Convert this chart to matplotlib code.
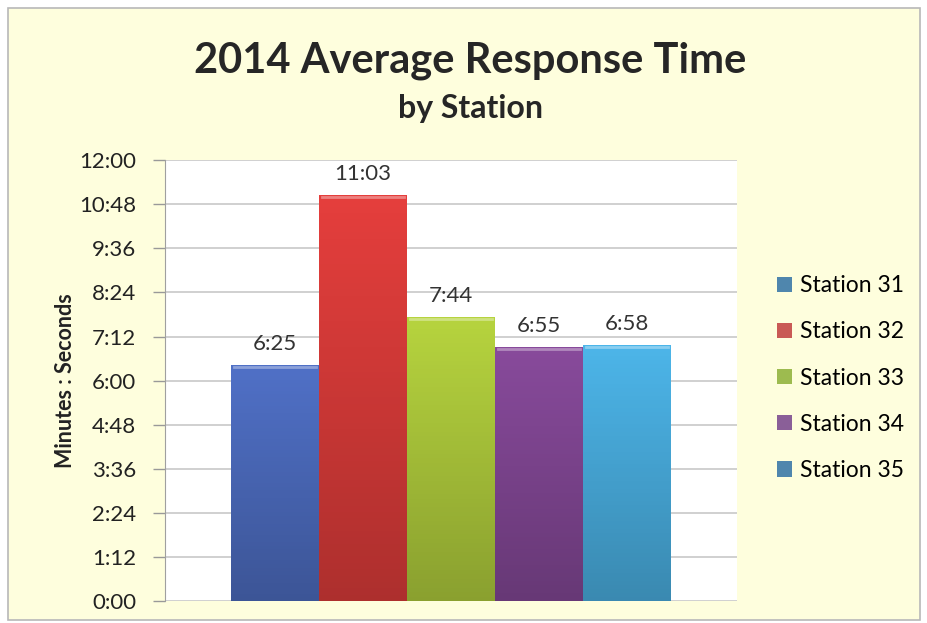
import matplotlib.pyplot as plt
import numpy as np
from matplotlib.patches import Rectangle, Patch

stations = ["Station 31", "Station 32", "Station 33", "Station 34", "Station 35"]
times = ["6:25", "11:03", "7:44", "6:55", "6:58"]
bar_colors = ["#4a68b8", "#d43a38", "#a9c43a", "#7e4590", "#47a8d8"]
legend_colors = ["#4f86ad", "#c95a55", "#9dbb4f", "#8a5f98", "#4f86ad"]
tick_labels = ["0:00", "1:12", "2:24", "3:36", "4:48", "6:00",
               "7:12", "8:24", "9:36", "10:48", "12:00"]

minutes = [int(t.split(":")[0]) + int(t.split(":")[1]) / 60 for t in times]

plt.rcParams["font.family"] = ["Lato", "DejaVu Sans"]

fig = plt.figure(figsize=(9.28, 6.23), dpi=100)
fig.patch.set_facecolor("white")
fig.add_artist(Rectangle((0.009, 0.005), 0.982, 0.982, transform=fig.transFigure,
                         facecolor="#fefedd", edgecolor="#b8b8b8", lw=1.2, zorder=-10))

ax = fig.add_axes([0.178, 0.035, 0.616, 0.708])
ax.set_facecolor("white")

positions = np.arange(1, len(stations) + 1)
bars = ax.bar(positions, minutes, width=1.0, color=bar_colors,
              edgecolor="none", zorder=3)

# soft vertical shading so the bars look a bit like the bevelled originals
for bar, col in zip(bars, bar_colors):
    rgb = np.array(plt.matplotlib.colors.to_rgb(col))
    shade = np.linspace(1.08, 0.82, 64)[:, None] * rgb[None, :]
    img = np.clip(shade, 0, 1)[:, None, :]
    x0, w, h = bar.get_x(), bar.get_width(), bar.get_height()
    im = ax.imshow(img, extent=(x0, x0 + w, 0, h), aspect="auto",
                   origin="upper", zorder=3)
    im.set_clip_path(bar)
    ax.plot([x0 + 0.03, x0 + w - 0.03], [h - 0.05, h - 0.05],
            color="white", alpha=0.35, lw=2, zorder=4)

for pos, m, lab in zip(positions, minutes, times):
    ax.annotate(lab, (pos, m), xytext=(0, 8), textcoords="offset points",
                ha="center", va="bottom", fontsize=16, color="#333333")

yticks = np.linspace(0, 12, len(tick_labels))
ax.set_yticks(yticks)
ax.set_yticklabels(tick_labels, fontsize=16, color="#222222")
ax.set_ylim(0, 12)
ax.set_xlim(-0.25, 6.25)
ax.set_xticks([])
ax.yaxis.grid(True, color="#c8c8c8", lw=1.2, zorder=0)
ax.tick_params(axis="y", length=9, color="#999999", width=1, pad=12)
for side in ["top", "right", "bottom"]:
    ax.spines[side].set_visible(False)
ax.spines["left"].set_color("#a0a0a0")

ax.set_ylabel("Minutes : Seconds", fontsize=15.5, fontweight="bold",
              color="#222222", labelpad=2)

fig.text(0.507, 0.903, "2014 Average Response Time", ha="center", va="center",
         fontsize=30, fontweight="bold", color="#262626")
fig.text(0.507, 0.826, "by Station", ha="center", va="center",
         fontsize=23, fontweight="bold", color="#262626")

handles = [Patch(facecolor=c, edgecolor="none") for c in legend_colors]
fig.legend(handles, stations, loc="center left", bbox_to_anchor=(0.815, 0.393),
           frameon=False, fontsize=16.5, handlelength=0.65, handleheight=0.65,
           handletextpad=0.35, labelspacing=1.1)

fig.savefig("out.png", dpi=100)
